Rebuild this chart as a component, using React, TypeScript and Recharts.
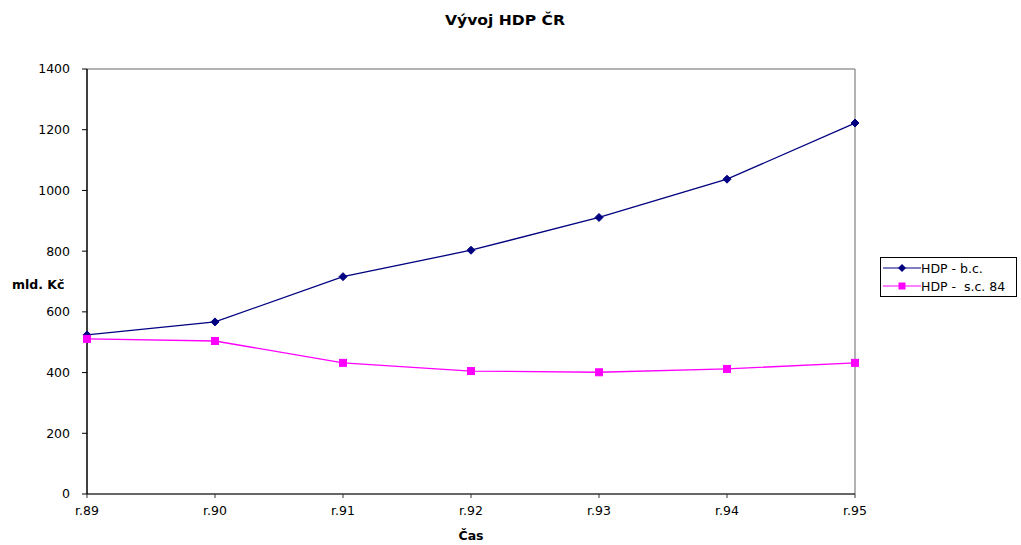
import React from 'react';
import { LineChart, Line, XAxis, YAxis, ReferenceLine } from 'recharts';

const categories = ['r.89', 'r.90', 'r.91', 'r.92', 'r.93', 'r.94', 'r.95'];
const hdpBc = [524, 567, 716, 803, 911, 1037, 1222];
const hdpSc84 = [511, 504, 432, 405, 401, 412, 432];
const yTicks = [0, 200, 400, 600, 800, 1000, 1200, 1400];

const data = categories.map((c, i) => ({ cat: c, bc: hdpBc[i], sc: hdpSc84[i] }));

const FONT = '"DejaVu Sans", Arial, sans-serif';

const Diamond = (props: any) => {
  const { cx, cy, key } = props;
  if (cx == null || cy == null) return null;
  return <path key={key} d={`M${cx},${cy - 4}L${cx + 4},${cy}L${cx},${cy + 4}L${cx - 4},${cy}Z`} fill="#000080" stroke="#000080" />;
};

const Square = (props: any) => {
  const { cx, cy, key } = props;
  if (cx == null || cy == null) return null;
  return <rect key={key} x={cx - 3.5} y={cy - 3.5} width={7} height={7} fill="#FF00FF" stroke="#FF00FF" />;
};

const LegendBox = () => (
  <div style={{ position: 'absolute', left: 880, top: 257, border: '1px solid #000', background: '#fff', width: 137, height: 40, boxSizing: 'border-box', fontFamily: FONT, fontSize: 12.5, color: '#000' }}>
    <div style={{ display: 'flex', alignItems: 'center', height: 18, marginTop: 1 }}>
      <svg width={38} height={10} style={{ marginLeft: 2 }}>
        <line x1={0} y1={5} x2={38} y2={5} stroke="#000080" strokeWidth={1.2} />
        <path d="M19,1L23,5L19,9L15,5Z" fill="#000080" />
      </svg>
      <span style={{ marginLeft: 0 }}>HDP - b.c.</span>
    </div>
    <div style={{ display: 'flex', alignItems: 'center', height: 18 }}>
      <svg width={38} height={10} style={{ marginLeft: 2 }}>
        <line x1={0} y1={5} x2={38} y2={5} stroke="#FF00FF" strokeWidth={1.2} />
        <rect x={15.5} y={1.5} width={7} height={7} fill="#FF00FF" />
      </svg>
      <span style={{ marginLeft: 0, whiteSpace: 'pre' }}>HDP -  s.c. 84</span>
    </div>
  </div>
);

export default function App() {
  return (
    <div style={{ position: 'absolute', left: 0, top: 0, width: 1021, height: 545, background: '#fff' }}>
      <LineChart width={1021} height={545} data={data} margin={{ top: 69, right: 166, bottom: 21, left: 27 }}>
        <text x={505} y={25} textAnchor="middle" fontFamily={FONT} fontSize={13.5} fontWeight="bold" fill="#000" textLength={120} lengthAdjust="spacingAndGlyphs">Vývoj HDP ČR</text>
        <text x={12} y={289} textAnchor="start" fontFamily={FONT} fontSize={12.5} fontWeight="bold" fill="#000">mld. Kč</text>
        <text x={471} y={540} textAnchor="middle" fontFamily={FONT} fontSize={12.5} fontWeight="bold" fill="#000">Čas</text>
        <ReferenceLine y={1400} stroke="#999" strokeWidth={1.5} />
        <ReferenceLine x="r.95" stroke="#999" strokeWidth={1.5} />
        <XAxis
          dataKey="cat"
          height={30}
          interval={0}
          padding={{ left: 0, right: 0 }}
          tick={{ fontFamily: FONT, fontSize: 12.5, fill: '#000' }}
          tickSize={4}
          tickMargin={8}
          axisLine={{ stroke: '#333', strokeWidth: 1.5 }}
          tickLine={{ stroke: '#333' }}
        />
        <YAxis
          width={60}
          domain={[0, 1400]}
          ticks={yTicks}
          interval={0}
          tick={{ fontFamily: FONT, fontSize: 12.5, fill: '#000' }}
          tickSize={5}
          tickMargin={12}
          axisLine={{ stroke: '#000', strokeWidth: 1.5 }}
          tickLine={{ stroke: '#000' }}
        />
        <Line dataKey="bc" stroke="#000080" strokeWidth={1.3} dot={Diamond} isAnimationActive={false} />
        <Line dataKey="sc" stroke="#FF00FF" strokeWidth={1.3} dot={Square} isAnimationActive={false} />
      </LineChart>
      <LegendBox />
    </div>
  );
}
